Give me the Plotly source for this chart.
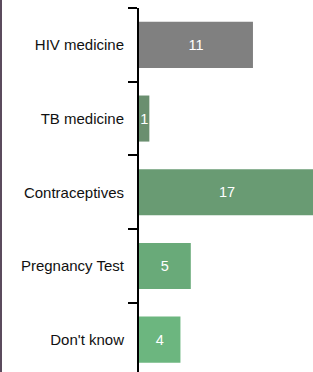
import plotly.graph_objects as go

categories = ["HIV medicine", "TB medicine", "Contraceptives", "Pregnancy Test", "Don't know"]
values = [11, 1, 17, 5, 4]
colors = ["#808080", "#6a8f6f", "#699b73", "#69aa79", "#6cb67f"]

W, H = 313, 372
L, T = 139, 8
plot_w = W - L
plot_h = H - T
band = 73.7

fig = go.Figure(go.Bar(
    y=categories, x=values, orientation="h",
    marker=dict(color=colors, line=dict(width=0)),
    width=0.625,
    text=[str(v) for v in values], textposition="inside", insidetextanchor="middle",
    constraintext="none",
    textfont=dict(color="white", size=14.5, family="Liberation Sans, Arial, sans-serif"),
    hoverinfo="skip",
))

fig.update_layout(
    width=W, height=H,
    margin=dict(l=L, r=0, t=T, b=0, pad=0, autoexpand=False),
    paper_bgcolor="white", plot_bgcolor="white",
    showlegend=False,
    font=dict(family="Liberation Sans, Arial, sans-serif", size=15, color="#111"),
    xaxis=dict(visible=False, range=[0, plot_w / 10.36], fixedrange=True, automargin=False),
    yaxis=dict(
        categoryorder="array", categoryarray=categories,
        range=[-0.5 + plot_h / band, -0.5],
        showline=True, linecolor="black", linewidth=2,
        ticks="outside", ticklen=9, tickwidth=2, tickcolor="black",
        tickson="boundaries", showgrid=False, zeroline=False,
        ticklabelstandoff=10, automargin=False,
    ),
    shapes=[dict(type="line", xref="paper", yref="paper",
                 x0=(1 - L) / plot_w, x1=(1 - L) / plot_w, y0=-0.1, y1=1.1,
                 line=dict(color="#5b4b5d", width=2))],
)

fig.write_html("out.html", config={"displayModeBar": False},
               post_script="document.body.style.margin='0';document.body.style.overflow='hidden';")
